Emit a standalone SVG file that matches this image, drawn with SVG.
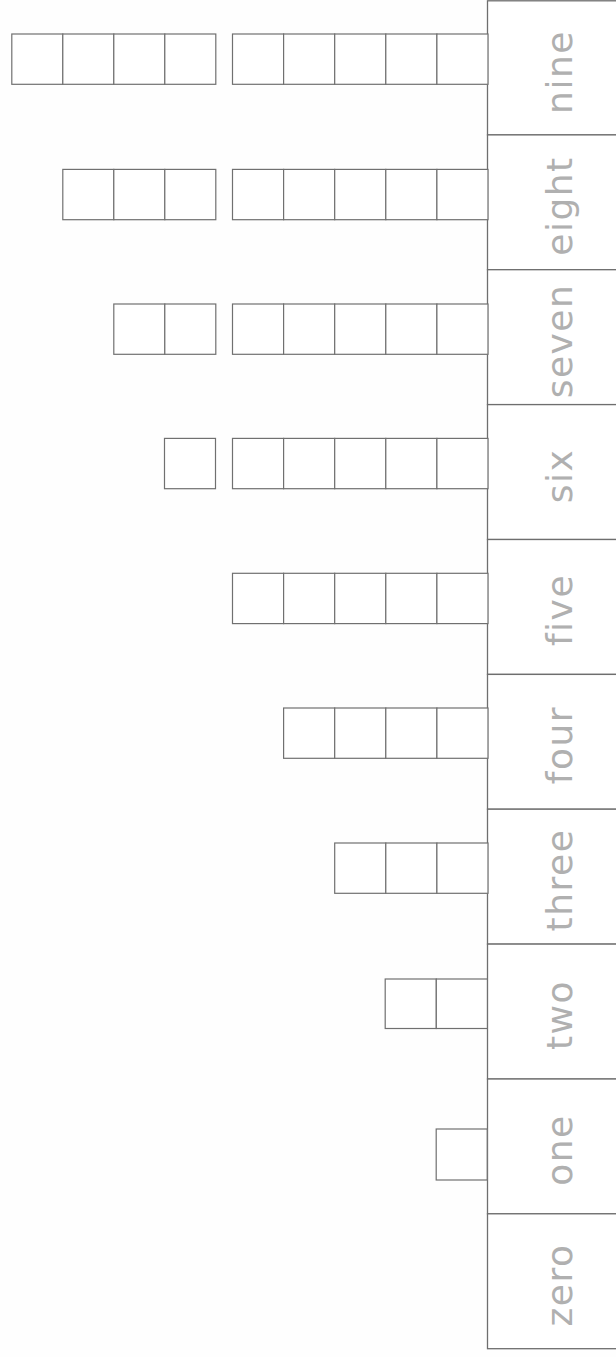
<svg xmlns="http://www.w3.org/2000/svg" width="616" height="1357" viewBox="0 0 616 1357">
<style>
.bx{fill:#fff;stroke:#6e6e6e;stroke-width:1.3}
.sq{fill:#fff;stroke:#707070;stroke-width:1.2}
.lb{font-family:"DejaVu Sans",sans-serif;font-size:36px;fill:#b0b0b0;text-anchor:middle;letter-spacing:1.5px}
</style>
<rect width="616" height="1357" fill="#fefefe"/>
<g id="connectors"/>
<g id="col-nine"><rect class="bx" x="487.5" y="0.8" width="140" height="134.1"/><text class="lb" transform="translate(572,72) rotate(-90)">nine</text></g>
<g id="col-eight"><rect class="bx" x="487.5" y="134.9" width="140" height="134.8"/><text class="lb" transform="translate(572,206) rotate(-90)">eight</text></g>
<g id="col-seven"><rect class="bx" x="487.5" y="269.7" width="140" height="134.9"/><text class="lb" transform="translate(572,341) rotate(-90)">seven</text></g>
<g id="col-six"><rect class="bx" x="487.5" y="404.6" width="140" height="134.9"/><text class="lb" transform="translate(572,476) rotate(-90)">six</text></g>
<g id="col-five"><rect class="bx" x="487.5" y="539.5" width="140" height="134.9"/><text class="lb" transform="translate(572,610) rotate(-90)">five</text></g>
<g id="col-four"><rect class="bx" x="487.5" y="674.4" width="140" height="134.8"/><text class="lb" transform="translate(572,745) rotate(-90)">four</text></g>
<g id="col-three"><rect class="bx" x="487.5" y="809.2" width="140" height="134.9"/><text class="lb" transform="translate(572,880) rotate(-90)">three</text></g>
<g id="col-two"><rect class="bx" x="487.5" y="944.1" width="140" height="134.9"/><text class="lb" transform="translate(572,1015) rotate(-90)">two</text></g>
<g id="col-one"><rect class="bx" x="487.5" y="1079" width="140" height="134.8"/><text class="lb" transform="translate(572,1150) rotate(-90)">one</text></g>
<g id="col-zero"><rect class="bx" x="487.5" y="1213.8" width="140" height="134.9"/><text class="lb" transform="translate(572,1285) rotate(-90)">zero</text></g>

<g id="row-nine">
<rect class="sq" x="11.8" y="34" width="51" height="50.3"/><rect class="sq" x="62.8" y="34" width="51" height="50.3"/><rect class="sq" x="113.8" y="34" width="51" height="50.3"/><rect class="sq" x="164.8" y="34" width="51" height="50.3"/>
<rect class="sq" x="232.5" y="34" width="51.1" height="50.3"/><rect class="sq" x="283.6" y="34" width="51.1" height="50.3"/><rect class="sq" x="334.7" y="34" width="51.1" height="50.3"/><rect class="sq" x="385.8" y="34" width="51.1" height="50.3"/><rect class="sq" x="436.9" y="34" width="51.1" height="50.3"/>
</g>
<g id="row-eight">
<rect class="sq" x="62.8" y="169.4" width="51" height="50.3"/><rect class="sq" x="113.8" y="169.4" width="51" height="50.3"/><rect class="sq" x="164.8" y="169.4" width="51" height="50.3"/>
<rect class="sq" x="232.5" y="169.4" width="51.1" height="50.3"/><rect class="sq" x="283.6" y="169.4" width="51.1" height="50.3"/><rect class="sq" x="334.7" y="169.4" width="51.1" height="50.3"/><rect class="sq" x="385.8" y="169.4" width="51.1" height="50.3"/><rect class="sq" x="436.9" y="169.4" width="51.1" height="50.3"/>
</g>
<g id="row-seven">
<rect class="sq" x="113.8" y="304" width="51" height="50.3"/><rect class="sq" x="164.8" y="304" width="51" height="50.3"/>
<rect class="sq" x="232.5" y="304" width="51.1" height="50.3"/><rect class="sq" x="283.6" y="304" width="51.1" height="50.3"/><rect class="sq" x="334.7" y="304" width="51.1" height="50.3"/><rect class="sq" x="385.8" y="304" width="51.1" height="50.3"/><rect class="sq" x="436.9" y="304" width="51.1" height="50.3"/>
</g>
<g id="row-six">
<rect class="sq" x="164.5" y="438.4" width="51" height="50.3"/>
<rect class="sq" x="232.5" y="438.4" width="51.1" height="50.3"/><rect class="sq" x="283.6" y="438.4" width="51.1" height="50.3"/><rect class="sq" x="334.7" y="438.4" width="51.1" height="50.3"/><rect class="sq" x="385.8" y="438.4" width="51.1" height="50.3"/><rect class="sq" x="436.9" y="438.4" width="51.1" height="50.3"/>
</g>
<g id="row-five">
<rect class="sq" x="232.5" y="573.3" width="51.1" height="50.3"/><rect class="sq" x="283.6" y="573.3" width="51.1" height="50.3"/><rect class="sq" x="334.7" y="573.3" width="51.1" height="50.3"/><rect class="sq" x="385.8" y="573.3" width="51.1" height="50.3"/><rect class="sq" x="436.9" y="573.3" width="51.1" height="50.3"/>
</g>
<g id="row-four">
<rect class="sq" x="283.6" y="708" width="51.1" height="50.3"/><rect class="sq" x="334.7" y="708" width="51.1" height="50.3"/><rect class="sq" x="385.8" y="708" width="51.1" height="50.3"/><rect class="sq" x="436.9" y="708" width="51.1" height="50.3"/>
</g>
<g id="row-three">
<rect class="sq" x="334.7" y="843" width="51.1" height="50.3"/><rect class="sq" x="385.8" y="843" width="51.1" height="50.3"/><rect class="sq" x="436.9" y="843" width="51.1" height="50.3"/>
</g>
<g id="row-two">
<rect class="sq" x="385.2" y="979" width="51.1" height="49.5"/><rect class="sq" x="436.3" y="979" width="51.1" height="49.5"/>
</g>
<g id="row-one">
<rect class="sq" x="436.2" y="1129" width="51" height="51"/>
</g>
</svg>
